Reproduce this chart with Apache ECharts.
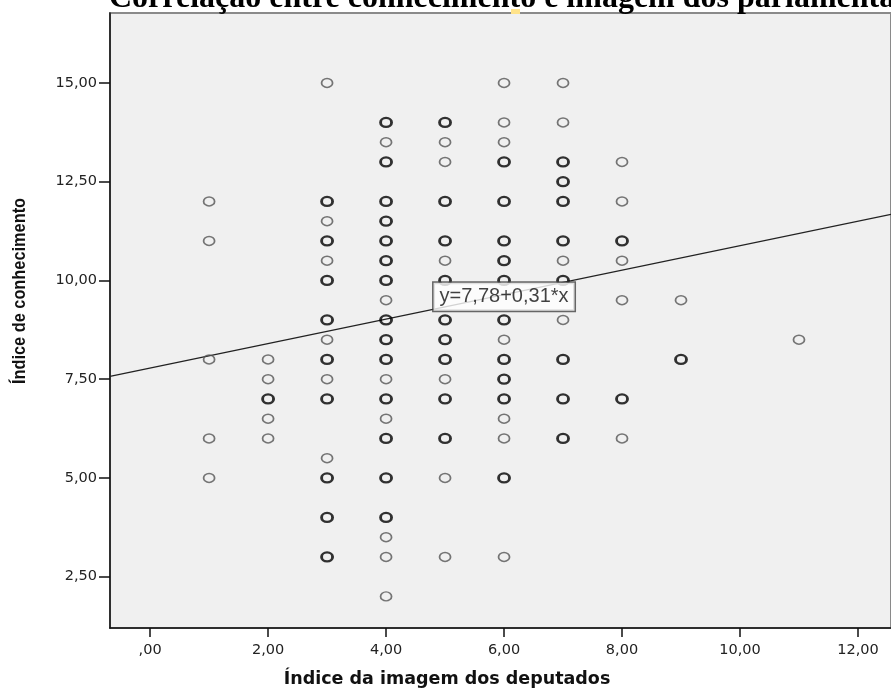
<!DOCTYPE html>
<html>
<head>
<meta charset="utf-8">
<script src="https://cdn.jsdelivr.net/npm/echarts@6/dist/echarts.min.js"></script>
<style>html,body{margin:0;padding:0;background:#fff;}#chart{width:891px;height:690px;}</style>
</head>
<body>
<div id="chart"></div>
<script>
// Tick values
const xTicks = [0, 2, 4, 6, 8, 10, 12];
const yTicks = [2.5, 5, 7.5, 10, 12.5, 15];

// Texts
const chartTitle = 'Correlação entre conhecimento e imagem dos parlamentares';
const xTitle = 'Índice da imagem dos deputados';
const yTitle = 'Índice de conhecimento';

// Regression y = a + b*x
const intercept = 7.78;
const slope = 0.31;
const equationLabel = 'y=7,78+0,31*x';

// Points drawn once (thin outline)
const pontosSimples = [
  [1,12],[1,11],[1,8],[1,6],[1,5],
  [2,8],[2,7.5],[2,6.5],[2,6],
  [3,15],[3,11.5],[3,10.5],[3,8.5],[3,7.5],[3,5.5],
  [4,13.5],[4,9.5],[4,7.5],[4,6.5],[4,3.5],[4,3],[4,2],
  [5,13.5],[5,13],[5,10.5],[5,7.5],[5,5],[5,3],
  [6,15],[6,14],[6,13.5],[6,8.5],[6,6.5],[6,6],[6,3],
  [7,15],[7,14],[7,10.5],[7,9],
  [8,13],[8,12],[8,10.5],[8,9.5],[8,6],
  [9,9.5],
  [11,8.5]
];

// Points with overlapping cases (bold outline)
const pontosMultiplos = [
  [2,7],
  [3,12],[3,11],[3,10],[3,9],[3,8],[3,7],[3,5],[3,4],[3,3],
  [4,14],[4,13],[4,12],[4,11.5],[4,11],[4,10.5],[4,10],[4,9],[4,8.5],[4,8],[4,7],[4,6],[4,5],[4,4],
  [5,14],[5,12],[5,11],[5,10],[5,9],[5,8.5],[5,8],[5,7],[5,6],
  [6,13],[6,12],[6,11],[6,10.5],[6,10],[6,9],[6,8],[6,7.5],[6,7],[6,5],
  [7,13],[7,12.5],[7,12],[7,11],[7,10],[7,8],[7,7],[7,6],
  [8,11],[8,7],
  [9,8]
];

const xMin = -0.68, xMax = 12.56;
const yMin = 1.2, yMax = 16.77;

function fmt(v) {
  let s = Number(v).toFixed(2).replace('.', ',');
  if (s.startsWith('0,')) s = s.substring(1);
  return s;
}

const chart = echarts.init(document.getElementById('chart'));
const labelFont = { fontFamily: 'DejaVu Sans', fontSize: 14.5, color: '#222' };

chart.setOption({
  animation: false,
  backgroundColor: '#ffffff',
  title: {
    text: chartTitle,
    left: 104, top: -22,
    textStyle: { fontFamily: 'Liberation Serif', fontWeight: 'bold', fontSize: 32, color: '#000' }
  },
  graphic: [
    { type: 'rect', shape: { x: 511, y: 9, width: 9, height: 5 }, style: { fill: '#FFE38A' }, z: 100 },
    {
      type: 'text', x: 447, y: 679,
      style: { text: xTitle, fontFamily: 'DejaVu Sans', fontWeight: 'bold', fontSize: 17.5, fill: '#111',
               align: 'center', verticalAlign: 'middle' }
    },
    {
      type: 'text', x: 20, y: 291, rotation: Math.PI / 2, scaleX: 0.86,
      style: { text: yTitle, fontFamily: 'Liberation Sans', fontWeight: 'bold', fontSize: 19, fill: '#111',
               align: 'center', verticalAlign: 'middle' }
    }
  ],
  grid: {
    left: 110, right: -2, top: 13, bottom: 62,
    show: true, backgroundColor: '#F0F0F0', borderColor: '#8a8a8a', borderWidth: 2
  },
  xAxis: {
    type: 'value', min: xMin, max: xMax,
    axisLine: { show: true, onZero: false, lineStyle: { color: '#111', width: 1.5 } },
    axisTick: { show: true, length: 9, customValues: xTicks, lineStyle: { color: '#111', width: 1.5 } },
    axisLabel: Object.assign({ margin: 15, customValues: xTicks, formatter: fmt }, labelFont),
    splitLine: { show: false }
  },
  yAxis: {
    type: 'value', min: yMin, max: yMax,
    axisLine: { show: true, onZero: false, lineStyle: { color: '#111', width: 1.5 } },
    axisTick: { show: true, length: 11, customValues: yTicks, lineStyle: { color: '#111', width: 1.5 } },
    axisLabel: Object.assign({ margin: 13, customValues: yTicks, formatter: fmt }, labelFont),
    splitLine: { show: false }
  },
  series: [
    {
      type: 'line', name: 'fit', z: 1,
      data: [[xMin, intercept + slope * xMin], [xMax, intercept + slope * xMax]],
      symbol: 'none', lineStyle: { color: '#222', width: 1.3 }, silent: true
    },
    {
      type: 'scatter', name: 'simples', z: 2,
      data: pontosSimples, symbol: 'circle', symbolSize: [11, 9],
      itemStyle: { color: 'rgba(0,0,0,0)', borderColor: '#555', borderWidth: 1.6 }
    },
    {
      type: 'scatter', name: 'multiplos', z: 3,
      data: pontosMultiplos, symbol: 'circle', symbolSize: [11, 9],
      itemStyle: { color: 'rgba(0,0,0,0)', borderColor: '#000', borderWidth: 2.6 }
    },
    {
      type: 'scatter', name: 'eq', z: 10,
      data: [[6, intercept + slope * 6]], symbolSize: 0,
      label: {
        show: true, position: 'inside', offset: [0, 2], formatter: equationLabel,
        fontFamily: 'Liberation Sans', fontSize: 20, color: '#111',
        backgroundColor: '#fff', borderColor: '#444', borderWidth: 1.5,
        padding: [3, 6, 3, 6], lineHeight: 22
      }
    }
  ]
});
</script>
</body>
</html>
